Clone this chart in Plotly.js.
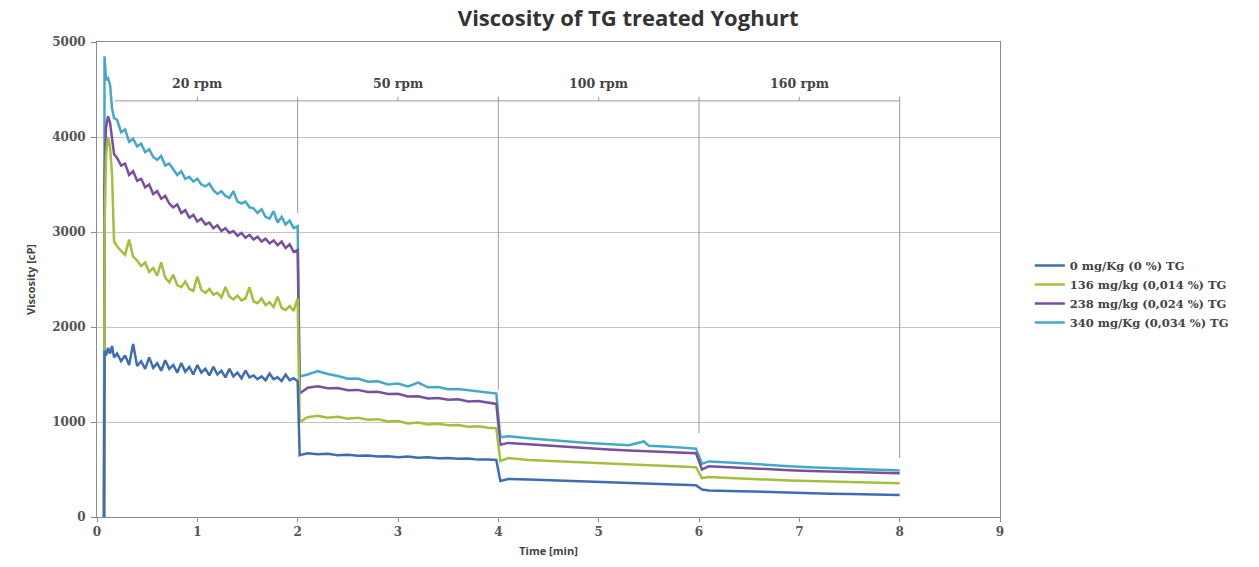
<!DOCTYPE html>
<html>
<head>
<meta charset="utf-8">
<script src="https://cdn.plot.ly/plotly-3.0.1.min.js"></script>
<style>html,body{margin:0;padding:0;background:#fff;}#chart{width:1259px;height:567px;}</style>
</head>
<body>
<div id="chart"></div>
<script>
// Time [min]
const time = [
  0.07, 0.075, 0.09, 0.11, 0.13, 0.15, 0.17,
  0.20, 0.24, 0.28, 0.32, 0.36, 0.40, 0.44, 0.48, 0.52, 0.56, 0.60, 0.64, 0.68, 0.72, 0.76, 0.80,
  0.84, 0.88, 0.92, 0.96, 1.00, 1.04, 1.08, 1.12, 1.16, 1.20, 1.24, 1.28, 1.32, 1.36, 1.40, 1.44,
  1.48, 1.52, 1.56, 1.60, 1.64, 1.68, 1.72, 1.76, 1.80, 1.84, 1.88, 1.92, 1.96, 2.00,
  2.02, 2.1, 2.2, 2.3, 2.4, 2.5, 2.6, 2.7, 2.8, 2.9, 3.0, 3.1, 3.2, 3.3, 3.4, 3.5, 3.6, 3.7, 3.8, 3.9, 3.98,
  4.02, 4.1, 4.3, 4.5, 4.7, 4.9, 5.1, 5.3, 5.45, 5.5, 5.7, 5.9, 5.97,
  6.03, 6.1, 6.3, 6.5, 6.7, 6.9, 7.1, 7.3, 7.5, 7.7, 7.9, 8.0
];

const seriesNames = [
  "0 mg/Kg (0 %) TG",
  "136 mg/kg (0,014 %) TG",
  "238 mg/kg (0,024 %) TG",
  "340 mg/Kg (0,034 %) TG"
];

const visc0 = [
  0, 1750, 1700, 1780, 1720, 1800, 1680,
  1720, 1640, 1700, 1600, 1820, 1590, 1640, 1560, 1680, 1570, 1620, 1540, 1650, 1560, 1600, 1520,
  1620, 1530, 1580, 1500, 1600, 1520, 1560, 1490, 1580, 1500, 1540, 1470, 1560, 1480, 1520, 1460,
  1540, 1470, 1490, 1450, 1480, 1440, 1510, 1450, 1470, 1430, 1500, 1440, 1460, 1430,
  650, 670, 660, 665, 650, 655, 645, 648, 638, 640, 630, 636, 625, 628, 618, 622, 612, 615, 604, 606, 600,
  380, 400, 395, 388, 380, 372, 365, 358, 354, 352, 348, 345, 335,
  290, 280, 275, 268, 262, 256, 250, 246, 242, 238, 234, 232
];

const visc136 = [
  0, 3000, 3800, 4000, 3900, 3600, 2900,
  2850, 2800, 2760, 2920, 2740, 2700, 2640, 2680, 2580, 2620, 2540, 2680, 2520, 2470, 2550, 2440,
  2420, 2480, 2400, 2380, 2530, 2390, 2360, 2400, 2340, 2360, 2310, 2420, 2320, 2290, 2330, 2280,
  2300, 2420, 2270, 2250, 2300, 2230, 2260, 2210, 2320, 2200, 2180, 2220, 2170, 2300,
  1000, 1050, 1065, 1045, 1055, 1035, 1045, 1025, 1030, 1005, 1010, 985, 995, 975, 982, 965, 968, 950, 955, 940, 935,
  590, 620, 600, 590, 580, 570, 560, 553, 548, 545, 538, 530, 525,
  410, 420, 410, 400, 392, 385, 378, 372, 366, 362, 358, 355
];

const visc238 = [
  0, 3500, 4100, 4220, 4150, 3950, 3820,
  3780, 3700, 3720, 3600, 3640, 3540, 3560, 3470, 3500, 3400, 3430, 3350, 3380, 3300, 3260, 3290,
  3200, 3230, 3150, 3180, 3110, 3140, 3080, 3100, 3040, 3070, 3010, 3040, 2990, 3010, 2960, 2990,
  2940, 2970, 2920, 2950, 2900, 2930, 2880, 2910, 2860, 2900, 2830, 2870, 2790, 2810,
  1300, 1360, 1375, 1355, 1358, 1335, 1338, 1315, 1318, 1295, 1298, 1268, 1272, 1248, 1252, 1235, 1240, 1215, 1220, 1205, 1190,
  760, 780, 765, 750, 735, 720, 710, 700, 695, 692, 685, 678, 672,
  500, 535, 525, 512, 500, 492, 485, 478, 472, 467, 462, 460
];

const visc340 = [
  0, 4850, 4600, 4620, 4550, 4300, 4200,
  4180, 4050, 4080, 3950, 3980, 3900, 3930, 3840, 3870, 3790, 3760, 3800, 3700, 3720, 3660, 3600,
  3640, 3560, 3580, 3530, 3560, 3500, 3480, 3510, 3440, 3400, 3430, 3380, 3360, 3430, 3320, 3300,
  3320, 3260, 3250, 3200, 3240, 3160, 3140, 3220, 3100, 3160, 3080, 3120, 3040, 3060,
  1480, 1500, 1535, 1505, 1485, 1455, 1458, 1425, 1428, 1395, 1405, 1375, 1415, 1365, 1368, 1345, 1348, 1335, 1322, 1315, 1300,
  840, 850, 830, 810, 795, 780, 765, 755, 795, 750, 740, 730, 720,
  560, 585, 575, 560, 545, 535, 525, 515, 508, 500, 495, 490
];

// Speed stages (annotation overlay)
const rpmLabels = ["20 rpm", "50 rpm", "100 rpm", "160 rpm"];
const rpmMid = [1, 3, 5, 7];
const rpmBounds = [2, 4, 6, 8];
const rpmDropTo = [3200, 1340, 880, 620];
const rpmLineY = 4380;
const rpmLabelY = 4560;

const colors = ["#3f6db3", "#a4bf3e", "#7a4f9d", "#45a8c8"];
const allVisc = [visc0, visc136, visc238, visc340];

// draw blue last (on top), legend shows blue first
const order = [3, 2, 1, 0];
const traces = order.map(i => ({
  x: time, y: allVisc[i], type: "scatter", mode: "lines",
  name: seriesNames[i],
  line: {color: colors[i], width: 2.5},
  legendrank: i + 1
}));

const serif = "DejaVu Serif, Liberation Serif, serif";
const sans = "Open Sans, sans-serif";
const shapes = [];
const annotations = [];
shapes.push({type: "line", xref: "x", yref: "y", x0: 0.18, x1: rpmBounds[3], y0: rpmLineY, y1: rpmLineY,
  line: {color: "#9a9a9a", width: 1}});
rpmMid.forEach((m, i) => {
  shapes.push({type: "line", xref: "x", yref: "y", x0: m, x1: m, y0: rpmLineY, y1: rpmLineY + 45,
    line: {color: "#9a9a9a", width: 1}});
  annotations.push({x: m, y: rpmLabelY, xref: "x", yref: "y", text: rpmLabels[i], showarrow: false,
    font: {family: serif, size: 12.5, color: "#444", weight: "bold"}});
});
rpmBounds.forEach((b, i) => {
  shapes.push({type: "line", xref: "x", yref: "y", x0: b, x1: b, y0: rpmLineY + 45, y1: rpmDropTo[i],
    line: {color: "#9a9a9a", width: 1}});
});

const layout = {
  width: 1259, height: 567,
  paper_bgcolor: "#fff", plot_bgcolor: "#fff",
  margin: {l: 97, r: 259, t: 42, b: 50},
  title: {text: "Viscosity of TG treated Yoghurt", xref: "container", x: 0.499, xanchor: "center",
    yref: "container", y: 0.968, yanchor: "middle",
    font: {family: sans, size: 22, color: "#333", weight: "bold"}},
  xaxis: {range: [0, 9], dtick: 1, tick0: 0, showgrid: false, zeroline: false,
    showline: true, linecolor: "#8c8c8c", linewidth: 1, mirror: true,
    ticks: "outside", ticklen: 4, tickcolor: "#8c8c8c",
    tickfont: {family: serif, size: 12, color: "#555", weight: "bold"},
    title: {text: "Time [min]", standoff: 8, font: {family: sans, size: 11, color: "#444", weight: "bold"}}},
  yaxis: {range: [0, 5000], dtick: 1000, tick0: 0, showgrid: true, gridcolor: "#c4c4c4", gridwidth: 1,
    zeroline: false, showline: true, linecolor: "#8c8c8c", linewidth: 1, mirror: true,
    ticks: "outside", ticklen: 5, tickcolor: "#8c8c8c", ticklabelstandoff: 3,
    tickfont: {family: serif, size: 12, color: "#555", weight: "bold"},
    title: {text: "Viscosity [cP]", standoff: 14, font: {family: sans, size: 11, color: "#444", weight: "bold"}}},
  legend: {x: 1.033, xanchor: "left", y: 0.56, yanchor: "top", bgcolor: "rgba(0,0,0,0)",
    font: {family: serif, size: 11.5, color: "#444", weight: "bold"}, itemwidth: 30, tracegroupgap: 0},
  showlegend: true,
  shapes: shapes,
  annotations: annotations
};

Plotly.newPlot("chart", traces, layout, {displayModeBar: false, staticPlot: true});
</script>
</body>
</html>
